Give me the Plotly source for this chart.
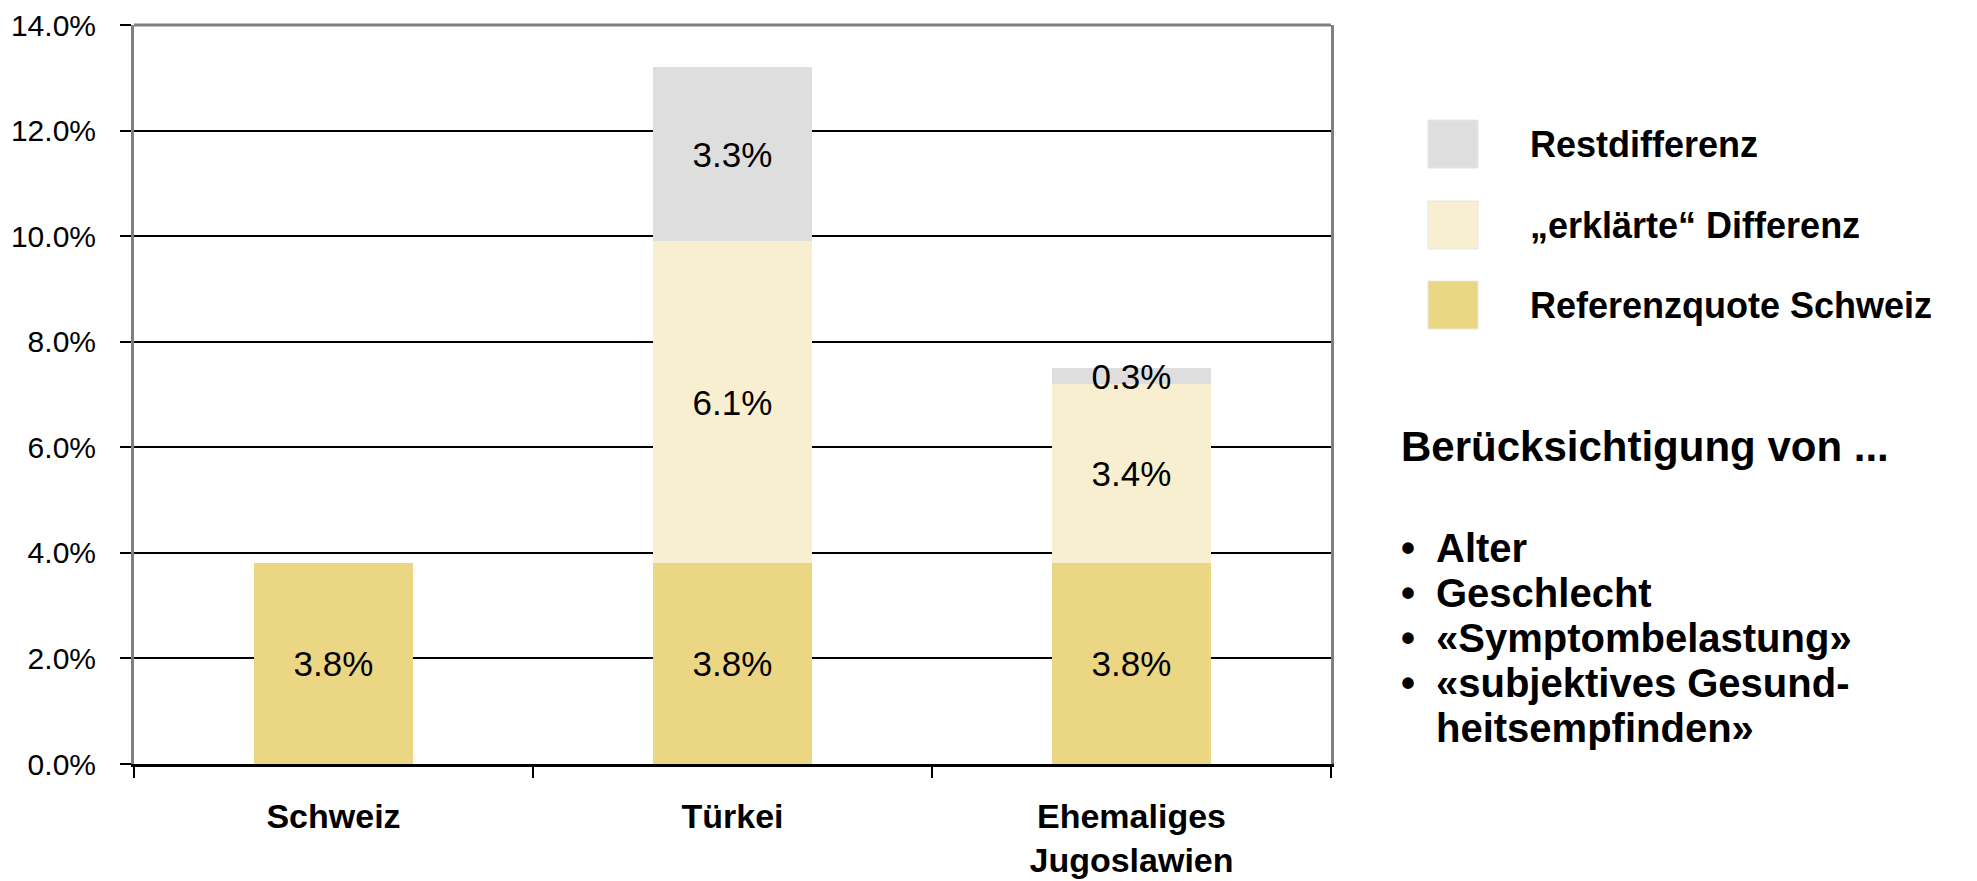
import plotly.graph_objects as go

# ---- data ----
categories = ["Schweiz", "Türkei", "Ehemaliges<br>Jugoslawien"]
referenzquote = [3.8, 3.8, 3.8]
erklaerte = [0.0, 6.1, 3.4]
restdifferenz = [0.0, 3.3, 0.3]
series_names = ["Referenzquote Schweiz", "„erklärte“ Differenz", "Restdifferenz"]
series_colors = ["#EBD783", "#F7EFD0", "#DEDEDE"]
y_ticks = [0, 2, 4, 6, 8, 10, 12, 14]
side_title = "Berücksichtigung von ..."
side_bullets = ["Alter", "Geschlecht", "«Symptombelastung»", "«subjektives Gesund-", "heitsempfinden»"]

OFF = 8  # default page body margin
W, H = 1977 - OFF, 881 - OFF
# plot area in screen pixels
L, R, T, B = 134, 1331, 25, 764
FONT = "Liberation Sans, Arial, sans-serif"


def px_x(px):
    return (px - L) / (R - L)


def px_y(py):
    return (B - py) / (B - T)


def label(vals):
    return [f"{v:.1f}%" if v else "" for v in vals]


fig = go.Figure()
for name, vals, col in zip(series_names, [referenzquote, erklaerte, restdifferenz], series_colors):
    fig.add_trace(go.Bar(
        x=categories, y=vals, name=name,
        marker=dict(color=col, line=dict(width=0)),
        width=0.4,
        text=label(vals), textposition="inside", insidetextanchor="middle",
        constraintext="none",
        textfont=dict(family=FONT, size=35, color="black"),
        showlegend=False, hoverinfo="skip",
    ))

fig.update_layout(
    barmode="stack",
    width=W, height=H,
    margin=dict(l=L - OFF, r=W - (R - OFF), t=T - OFF, b=H - (B - OFF), pad=0, autoexpand=False),
    paper_bgcolor="white", plot_bgcolor="white",
    font=dict(family=FONT, color="black"),
    showlegend=False,
    xaxis=dict(
        automargin=False,
        showline=True, linecolor="black", linewidth=3,
        ticks="outside", tickson="boundaries", ticklen=11, tickwidth=2, tickcolor="black",
        tickfont=dict(family=FONT, size=34, color="black"),
        ticklabelstandoff=20,
        tickvals=categories, ticktext=[f"<b>{c}</b>" for c in categories],
        showgrid=False,
    ),
    yaxis=dict(
        automargin=False,
        range=[0, 14], tickvals=y_ticks,
        ticktext=[f"{v:.1f}%" for v in y_ticks],
        showline=True, linecolor="#808080", linewidth=3, mirror=True,
        ticks="outside", ticklen=11, tickwidth=2, tickcolor="black",
        tickfont=dict(family=FONT, size=30, color="black"),
        ticklabelstandoff=18,
        showgrid=True, gridcolor="black", gridwidth=2,
        zeroline=False,
    ),
)

# top border (gray)
fig.add_shape(type="line", xref="paper", yref="paper", x0=0, x1=1, y0=1, y1=1,
              line=dict(color="#808080", width=3))

# manual legend (top entry first)
leg_centers = [305, 225, 144]
for name, col, cy in zip(series_names, series_colors, leg_centers):
    fig.add_shape(type="rect", xref="paper", yref="paper",
                  x0=px_x(1428), x1=px_x(1478), y0=px_y(cy + 24), y1=px_y(cy - 24),
                  fillcolor=col, line=dict(color="#E6E6E6", width=1))
    fig.add_annotation(xref="paper", yref="paper", x=px_x(1528), y=px_y(cy),
                       text=f"<b>{name}</b>", showarrow=False, xanchor="left", yanchor="middle",
                       font=dict(family=FONT, size=36, color="black"))

fig.add_annotation(xref="paper", yref="paper", x=px_x(1399), y=px_y(446),
                   text=f"<b>{side_title}</b>", showarrow=False, xanchor="left", yanchor="middle",
                   font=dict(family=FONT, size=42, color="black"))

line_centers = [548, 593, 638, 683, 728]
for i, (txt, cy) in enumerate(zip(side_bullets, line_centers)):
    if i < 4:
        fig.add_annotation(xref="paper", yref="paper", x=px_x(1399), y=px_y(cy),
                           text="<b>•</b>", showarrow=False, xanchor="left", yanchor="middle",
                           font=dict(family=FONT, size=40, color="black"))
    fig.add_annotation(xref="paper", yref="paper", x=px_x(1434), y=px_y(cy),
                       text=f"<b>{txt}</b>", showarrow=False, xanchor="left", yanchor="middle",
                       font=dict(family=FONT, size=40, color="black"))

fig.write_html("out.html")
